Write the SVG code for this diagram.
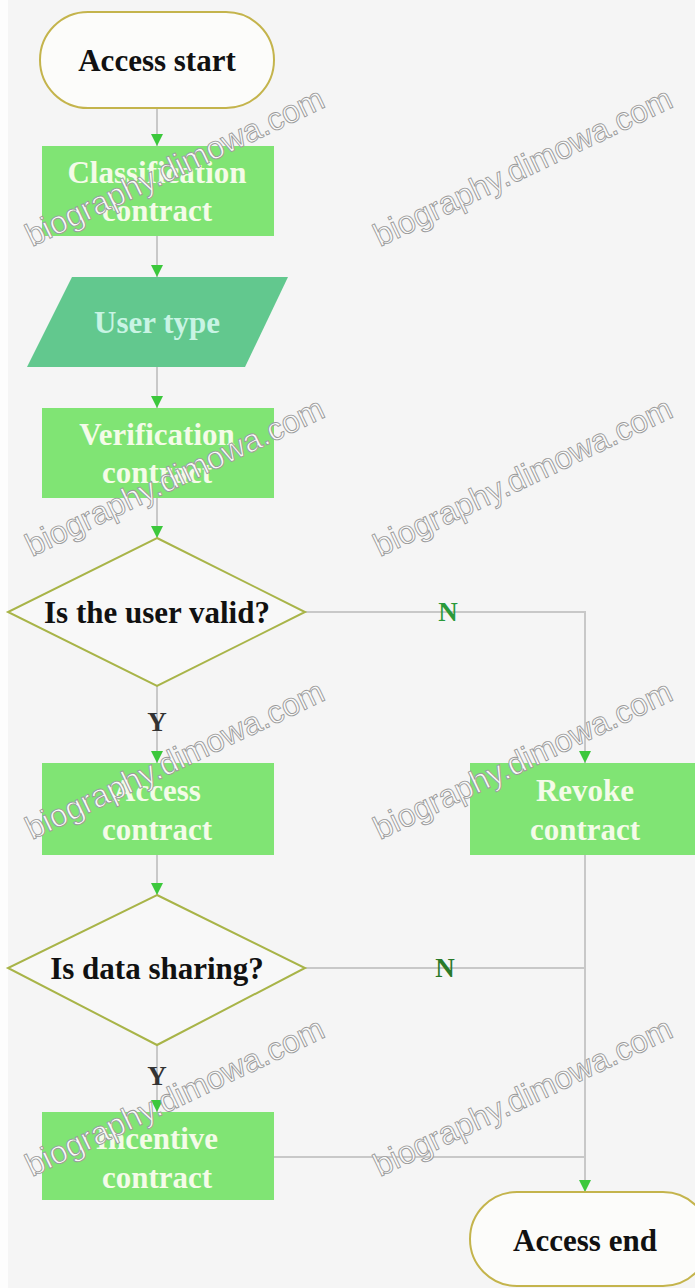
<svg xmlns="http://www.w3.org/2000/svg" width="695" height="1288" viewBox="0 0 695 1288">
<defs>
<marker id="ah" viewBox="0 0 10 10" refX="10" refY="5" markerWidth="12" markerHeight="12" markerUnits="userSpaceOnUse" orient="auto">
<path d="M0,0 L10,5 L0,10 Z" fill="#3cc83c"/>
</marker>
<style>
.term{fill:#fcfcfa;stroke:#c4b44c;stroke-width:2}
.box{fill:#80e474}
.dia{fill:#f8f8f8;stroke:#a8b448;stroke-width:2}
.t{font-family:"Liberation Serif","Times New Roman",serif;font-weight:bold;font-size:31px;text-anchor:middle;dominant-baseline:central}
.dark{fill:#111}
.light{fill:#f4fbe8}
.lbl{font-family:"Liberation Serif","Times New Roman",serif;font-weight:bold;font-size:27px;text-anchor:middle;dominant-baseline:central}
.ln{fill:none;stroke:#c8c8c8;stroke-width:2}
.wm{font-family:"Liberation Sans",Arial,sans-serif;font-size:32px;fill:#fafafa;stroke:#9a9a9a;stroke-width:0.9}
</style>
</defs>
<rect x="0" y="0" width="695" height="1288" fill="#f5f5f5"/>
<rect x="0" y="0" width="8" height="1288" fill="#fdfdfd"/>

<g id="connectors">
<path class="ln" d="M157,108 V146" marker-end="url(#ah)"/>
<path class="ln" d="M157,236 V277" marker-end="url(#ah)"/>
<path class="ln" d="M157,367 V408" marker-end="url(#ah)"/>
<path class="ln" d="M157,498 V538" marker-end="url(#ah)"/>
<path class="ln" d="M157,686 V763" marker-end="url(#ah)"/>
<path class="ln" d="M305,612 H585 V763" marker-end="url(#ah)"/>
<path class="ln" d="M157,855 V895" marker-end="url(#ah)"/>
<path class="ln" d="M305,968 H585"/>
<path class="ln" d="M585,855 V1192" marker-end="url(#ah)"/>
<path class="ln" d="M157,1045 V1112" marker-end="url(#ah)"/>
<path class="ln" d="M274,1157 H585"/>
<text class="lbl" x="448" y="612" fill="#2a9a3a">N</text>
<text class="lbl" x="157" y="722" fill="#333">Y</text>
<text class="lbl" x="445" y="968" fill="#2a7a2a">N</text>
<text class="lbl" x="157" y="1076" fill="#333">Y</text>
</g>

<g id="access-start">
<rect class="term" x="40" y="12" width="234" height="96" rx="48" ry="48"/>
<text class="t dark" x="157" y="60">Access start</text>
</g>
<g id="classification-contract">
<rect class="box" x="42" y="146" width="232" height="90"/>
<text class="t light" x="157" y="172">Classification</text>
<text class="t light" x="157" y="210">contract</text>
</g>
<g id="user-type">
<polygon points="72,277 288,277 245,367 27,367" fill="#62c88e"/>
<text class="t" x="157" y="322" fill="#c8f4e4">User type</text>
</g>
<g id="verification-contract">
<rect class="box" x="42" y="408" width="232" height="90"/>
<text class="t light" x="157" y="434">Verification</text>
<text class="t light" x="157" y="472">contract</text>
</g>
<g id="user-valid">
<polygon class="dia" points="157,538 305,612 157,686 8,612"/>
<text class="t dark" x="157" y="612">Is the user valid?</text>
</g>
<g id="access-contract">
<rect class="box" x="42" y="763" width="232" height="92"/>
<text class="t light" x="157" y="790">Access</text>
<text class="t light" x="157" y="829">contract</text>
</g>
<g id="revoke-contract">
<rect class="box" x="470" y="763" width="225" height="92"/>
<text class="t light" x="585" y="790">Revoke</text>
<text class="t light" x="585" y="829">contract</text>
</g>
<g id="data-sharing">
<polygon class="dia" points="157,895 305,968 157,1045 8,968"/>
<text class="t dark" x="157" y="968">Is data sharing?</text>
</g>
<g id="incentive-contract">
<rect class="box" x="42" y="1112" width="232" height="88"/>
<text class="t light" x="157" y="1138">Incentive</text>
<text class="t light" x="157" y="1177">contract</text>
</g>
<g id="access-end">
<rect class="term" x="470" y="1192" width="240" height="94" rx="47" ry="47"/>
<text class="t dark" x="585" y="1240">Access end</text>
</g>

<g id="watermarks">
<text class="wm" transform="translate(32,247) rotate(-25.5)">biography.dimowa.com</text>
<text class="wm" transform="translate(380,247) rotate(-25.5)">biography.dimowa.com</text>
<text class="wm" transform="translate(32,557) rotate(-25.5)">biography.dimowa.com</text>
<text class="wm" transform="translate(380,557) rotate(-25.5)">biography.dimowa.com</text>
<text class="wm" transform="translate(32,840) rotate(-25.5)">biography.dimowa.com</text>
<text class="wm" transform="translate(380,840) rotate(-25.5)">biography.dimowa.com</text>
<text class="wm" transform="translate(32,1177) rotate(-25.5)">biography.dimowa.com</text>
<text class="wm" transform="translate(380,1177) rotate(-25.5)">biography.dimowa.com</text>
</g>
</svg>
